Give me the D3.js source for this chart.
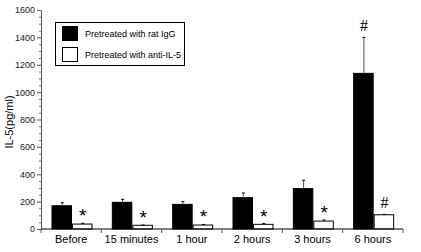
<!DOCTYPE html>
<html lang="en">
<head>
    <meta charset="UTF-8">
    <title>IL-5</title>
    <script src="https://cdn.jsdelivr.net/npm/d3@7"></script>
    <style>
        body { margin: 0; background: #fff; }
        text { font-family: "Liberation Sans", Arial, sans-serif; }
    </style>
</head>
<body>
<div id="graphic"></div>

<script>
    // data
    var categories = ['Before', '15 minutes', '1 hour', '2 hours', '3 hours', '6 hours'];
    var series = ['Pretreated with rat IgG', 'Pretreated with anti-IL-5'];
    var igg = [170, 195, 180, 229, 295, 1137];
    var iggErr = [22, 22, 20, 34, 61, 263];
    var anti = [36, 27, 29, 34, 58, 104];
    var antiErr = [6, 2, 4, 6, 8, 3];
    var marksIgg = ['', '', '', '', '', '#'];
    var marksAnti = ['*', '*', '*', '*', '*', '#'];
    var yTicks = [0, 200, 400, 600, 800, 1000, 1200, 1400, 1600];

    var width = 421;
    var height = 252;

    var svg = d3.select('#graphic')
                .append('svg')
                .attr('width', width)
                .attr('height', height);

    var y = d3.scaleLinear().domain([0, 1600]).range([229, 10]);

    var x0 = d3.scaleBand().domain(categories).range([41, 403]).padding(0);

    // bars sit inside each category slot
    var x1 = d3.scaleBand().domain(series).range([11, 52]).padding(0);

    var colors = { 'Pretreated with rat IgG': '#000', 'Pretreated with anti-IL-5': '#fff' };

    var rows = [];
    categories.forEach(function(c, i) {
        rows.push({ cat: c, s: series[0], v: igg[i], e: iggErr[i], m: marksIgg[i] });
        rows.push({ cat: c, s: series[1], v: anti[i], e: antiErr[i], m: marksAnti[i] });
    });

    // y axis with minor ticks
    var minor = d3.range(0, 1601, 50).filter(function(v) { return v % 200 != 0; });
    svg.append('g')
        .attr('transform', 'translate(41,0)')
        .call(d3.axisLeft(y).tickValues(minor).tickSize(2).tickFormat(''))
        .call(function(g) { g.select('.domain').remove(); g.selectAll('line').attr('stroke', '#777'); });

    var yAxis = svg.append('g')
        .attr('transform', 'translate(41,0)')
        .call(d3.axisLeft(y).tickValues(yTicks).tickFormat(d3.format('d')).tickSize(4).tickPadding(2).tickSizeOuter(0));
    yAxis.select('.domain').attr('stroke', '#555');
    yAxis.selectAll('line').attr('stroke', '#555');
    yAxis.selectAll('text').attr('font-size', 9).attr('fill', '#222')
        .attr('font-family', '"Liberation Sans", Arial, sans-serif');

    // bars
    svg.selectAll('.bar')
        .data(rows)
        .join('rect')
        .attr('class', 'bar')
        .attr('x', function(d) { return x0(d.cat) + x1(d.s); })
        .attr('y', function(d) { return y(d.v); })
        .attr('width', x1.bandwidth() - 1)
        .attr('height', function(d) { return y(0) - y(d.v); })
        .attr('fill', function(d) { return colors[d.s]; })
        .attr('stroke', '#000')
        .attr('stroke-width', 1);

    // error bars (upper only)
    var eb = svg.selectAll('.err')
        .data(rows)
        .join('g')
        .attr('class', 'err')
        .attr('transform', function(d) { return 'translate(' + (x0(d.cat) + x1(d.s) + x1.bandwidth() / 2) + ',0)'; });
    eb.append('line')
        .attr('y1', function(d) { return y(d.v); })
        .attr('y2', function(d) { return y(d.v + d.e); })
        .attr('stroke', '#555');
    eb.append('line')
        .attr('x1', -1.5).attr('x2', 1.5)
        .attr('y1', function(d) { return y(d.v + d.e); })
        .attr('y2', function(d) { return y(d.v + d.e); })
        .attr('stroke', '#000');

    // significance marks
    svg.selectAll('.mark')
        .data(rows.filter(function(d) { return d.m != ''; }))
        .join('text')
        .attr('class', 'mark')
        .attr('x', function(d) { return x0(d.cat) + x1(d.s) + x1.bandwidth() / 2; })
        .attr('y', function(d) { return d.m == '*' ? y(d.v + d.e) - 1 : y(d.v + d.e) - 6; })
        .attr('text-anchor', 'middle')
        .attr('font-size', function(d) { return d.m == '*' ? 19 : 16; })
        .style('font-family', function(d) { return d.m == '#' ? '"Liberation Serif", serif' : '"Liberation Sans", Arial, sans-serif'; })
        .text(function(d) { return d.m; });

    // x axis
    svg.append('line')
        .attr('x1', 41).attr('x2', 403)
        .attr('y1', y(0)).attr('y2', y(0))
        .attr('stroke', '#000');
    svg.selectAll('.xtick')
        .data(categories)
        .join('line')
        .attr('class', 'xtick')
        .attr('x1', function(d) { return x0(d) + x0.bandwidth(); })
        .attr('x2', function(d) { return x0(d) + x0.bandwidth(); })
        .attr('y1', y(0)).attr('y2', y(0) + 4)
        .attr('stroke', '#555');
    svg.append('line')
        .attr('x1', 41).attr('x2', 41)
        .attr('y1', y(0)).attr('y2', y(0) + 4)
        .attr('stroke', '#555');
    svg.selectAll('.xlabel')
        .data(categories)
        .join('text')
        .attr('class', 'xlabel')
        .attr('x', function(d) { return x0(d) + x0.bandwidth() / 2; })
        .attr('y', 243)
        .attr('text-anchor', 'middle')
        .attr('font-size', 11)
        .text(function(d) { return d; });

    // y label
    svg.append('text')
        .attr('transform', 'translate(13,122) rotate(-90)')
        .attr('text-anchor', 'middle')
        .attr('font-size', 11)
        .text('IL-5(pg/ml)');

    // legend
    var legend = svg.append('g');
    legend.append('rect')
        .attr('x', 55.5).attr('y', 22.5)
        .attr('width', 129).attr('height', 43)
        .attr('fill', '#fff').attr('stroke', '#000');
    legend.selectAll('.sw')
        .data(series)
        .join('rect')
        .attr('class', 'sw')
        .attr('x', 62.5)
        .attr('y', function(d, i) { return 26.5 + i * 21; })
        .attr('width', 15).attr('height', 14)
        .attr('fill', function(d) { return colors[d]; })
        .attr('stroke', '#000');
    legend.selectAll('.lt')
        .data(series)
        .join('text')
        .attr('class', 'lt')
        .attr('x', 85)
        .attr('y', function(d, i) { return 37 + i * 21; })
        .attr('font-size', 9)
        .text(function(d) { return d; });
</script>
</body>
</html>
